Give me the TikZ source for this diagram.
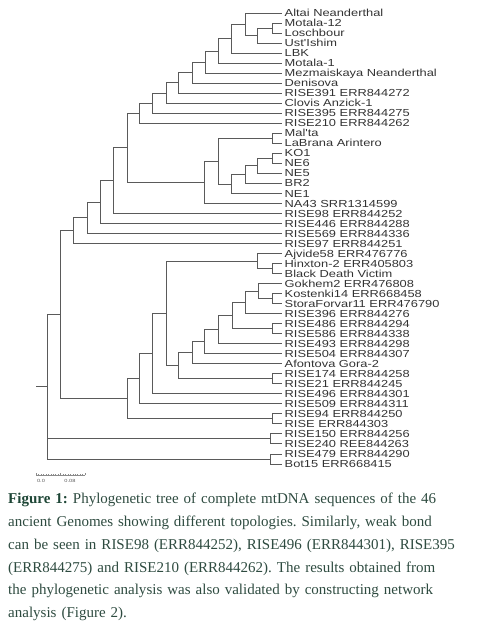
\documentclass[tikz,border=0pt]{standalone}
\usepackage{fontspec}
\setmainfont{Liberation Serif}
\newfontfamily\treefont[FakeStretch=1.26]{Liberation Sans}
\usetikzlibrary{calc}
\definecolor{bark}{HTML}{5A5A5A}
\definecolor{tiptext}{HTML}{333333}
\definecolor{capgreen}{HTML}{2E4B40}
\definecolor{capbold}{HTML}{1E4636}
\tikzset{branch/.style={draw=bark,line width=.75pt},tiplabel/.style={anchor=west,inner xsep=2.5pt,inner ysep=0pt,text height=7.3pt,text depth=0pt,font=\treefont\fontsize{10.2}{10.2}\selectfont,text=tiptext},scalebar/.style={draw=bark!70,line width=.4pt},scalelabel/.style={font=\treefont\fontsize{4.5}{4.5}\selectfont,text=bark,inner sep=0pt},captext/.style={anchor=north west,inner sep=0pt,text width=469pt,align=left,font=\fontsize{15}{22.8}\selectfont\frenchspacing,text=capgreen}}
\newcommand{\clade}[3]{\coordinate (#1) at (#2,{13+10.02*(#3-1)});}
\newcommand{\capline}[1]{\makebox[469pt][s]{#1}}

\begin{document}
\begin{tikzpicture}[x=1pt,y=-1pt]
\useasboundingbox (0,0) rectangle (490,629);
% tips, top to bottom
\foreach \name/\txt [count=\i] in {altai/Altai Neanderthal,motala12/Motala-12,loschbour/Loschbour,ustishim/Ust'Ishim,lbk/LBK,motala1/Motala-1,mezmai/Mezmaiskaya Neanderthal,denisova/Denisova,rise391/RISE391 ERR844272,clovis/Clovis Anzick-1,rise395/RISE395 ERR844275,rise210/RISE210 ERR844262,malta/Mal'ta,labrana/LaBrana Arintero,ko1/KO1,ne6/NE6,ne5/NE5,br2/BR2,ne1/NE1,na43/NA43 SRR1314599,rise98/RISE98 ERR844252,rise446/RISE446 ERR844288,rise569/RISE569 ERR844336,rise97/RISE97 ERR844251,ajvide/Ajvide58 ERR476776,hinxton/Hinxton-2 ERR405803,bdv/Black Death Victim,gokhem/Gokhem2 ERR476808,kostenki/Kostenki14 ERR668458,stora/StoraForvar11 ERR476790,rise396/RISE396 ERR844276,rise486/RISE486 ERR844294,rise586/RISE586 ERR844338,rise493/RISE493 ERR844298,rise504/RISE504 ERR844307,afontova/Afontova Gora-2,rise174/RISE174 ERR844258,rise21/RISE21 ERR844245,rise496/RISE496 ERR844301,rise509/RISE509 ERR844311,rise94/RISE94 ERR844250,rise303/RISE ERR844303,rise150/RISE150 ERR844256,rise240/RISE240 REE844263,rise479/RISE479 ERR844290,bot15/Bot15 ERR668415}
  \node[tiplabel] (\name) at (282,{13+10.02*(\i-1)}) {\txt};

% inner nodes (x, tip index)
\clade{n1}{272}{2.5} \clade{n2}{257}{3.25} \clade{n3}{245}{2.125} \clade{n4}{231}{3.56}
\clade{n5}{218}{4.78} \clade{n6}{205}{5.89} \clade{n7}{192}{6.95} \clade{n8}{178}{7.97}
\clade{n9}{166}{8.99} \clade{n10}{152}{9.99} \clade{n11}{139}{11}
\clade{m1}{272}{13.5} \clade{k1}{272}{15.5} \clade{k2}{257}{16.25} \clade{k3}{245}{17.125}
\clade{k4}{231}{18.06} \clade{m2}{218}{15.78} \clade{m3}{204}{17.89}
\clade{n12}{127}{14.45} \clade{n13}{113}{17.72} \clade{n14}{100}{19.86} \clade{n15}{87}{21.43} \clade{n16}{73}{22.72}
\clade{a1}{272}{26.5} \clade{a2}{257}{25.75}
\clade{g1}{272}{29.5} \clade{g2}{258}{28.75} \clade{g3}{245}{29.875} \clade{r1}{272}{32.5}
\clade{g4}{232}{31.19} \clade{g5}{218}{32.59} \clade{g6}{204}{33.8} \clade{g7}{192}{34.9}
\clade{r2}{272}{37.5} \clade{g8}{178}{36.2} \clade{g9}{166}{30.98} \clade{g10}{152}{35}
\clade{g11}{139}{37.5} \clade{r3}{272}{41.5} \clade{g12}{127}{39.5}
\clade{up}{60}{31.11} \clade{r4}{270}{43.5} \clade{r5}{270}{45.5} \clade{root}{47}{38.3}
\coordinate (stub) at (36,{13+10.02*37.3});

% branches
\foreach \p/\c in {n1/motala12,n1/loschbour,n2/n1,n2/ustishim,n3/altai,n3/n2,n4/n3,n4/lbk,n5/n4,n5/motala1,n6/n5,n6/mezmai,n7/n6,n7/denisova,n8/n7,n8/rise391,n9/n8,n9/clovis,n10/n9,n10/rise395,n11/n10,n11/rise210,m1/malta,m1/labrana,k1/ko1,k1/ne6,k2/k1,k2/ne5,k3/k2,k3/br2,k4/k3,k4/ne1,m2/m1,m2/k4,m3/m2,m3/na43,n12/n11,n12/m3,n13/n12,n13/rise98,n14/n13,n14/rise446,n15/n14,n15/rise569,n16/n15,n16/rise97}
  \draw[branch] (\p) |- (\c);
\foreach \p/\c in {a1/hinxton,a1/bdv,a2/ajvide,a2/a1,g1/kostenki,g1/stora,g2/gokhem,g2/g1,g3/g2,g3/rise396,r1/rise486,r1/rise586,g4/g3,g4/r1,g5/g4,g5/rise493,g6/g5,g6/rise504,g7/g6,g7/afontova,r2/rise174,r2/rise21,g8/g7,g8/r2,g9/a2,g9/g8,g10/g9,g10/rise496,g11/g10,g11/rise509,r3/rise94,r3/rise303,g12/g11,g12/r3,up/n16,up/g12,r4/rise150,r4/rise240,r5/rise479,r5/bot15,root/up,root/r4,root/r5}
  \draw[branch] (\p) |- (\c);
\draw[branch] (stub) -- (root);

% scale bar
\coordinate (sbl) at (36,475);
\coordinate (sbr) at (85,475);
\draw[scalebar] (sbl) -- (sbr);
\foreach \k in {0,...,20}
  \draw[scalebar] ($(sbl)!\k/20!(sbr)$) -- ++(0,-1.2);
\foreach \k in {0,10,20}
  \draw[scalebar] ($(sbl)!\k/20!(sbr)$) -- ++(0,-2.4);
\node[scalelabel] (zero) at (41,480.5) {0.0};
\node[scalelabel] (eight) at (70,480.5) {0.08};

% caption
\node[captext] (caption) at (8,493) {\capline{\textcolor{capbold}{\textbf{Figure 1:}} Phylogenetic tree of complete mtDNA sequences of the 46}\\
\capline{ancient Genomes showing different topologies. Similarly, weak bond}\\
\capline{can be seen in RISE98 (ERR844252), RISE496 (ERR844301), RISE395}\\
\capline{(ERR844275) and RISE210 (ERR844262). The results obtained from}\\
\capline{the phylogenetic analysis was also validated by constructing network}\\
analysis (Figure 2).};
\end{tikzpicture}
\end{document}
